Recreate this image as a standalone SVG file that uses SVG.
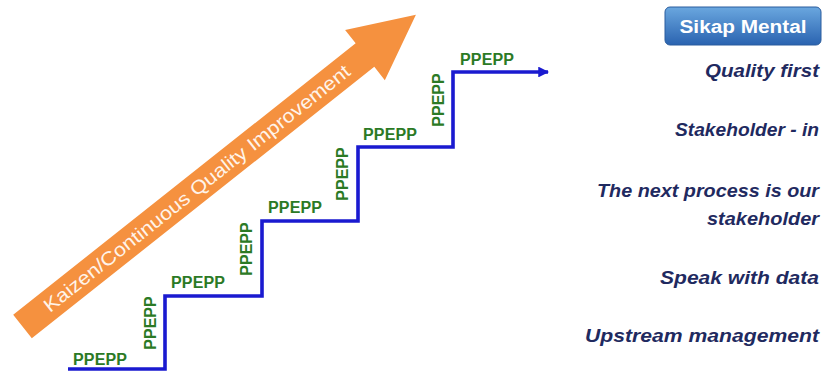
<svg xmlns="http://www.w3.org/2000/svg" width="824" height="371" viewBox="0 0 824 371">
<style>
.pp{font-family:"Liberation Sans",Arial,sans-serif;font-weight:bold;font-size:16px;fill:#2b7a25}
.rt{font-family:"Liberation Sans",Arial,sans-serif;font-weight:bold;font-style:italic;font-size:18px;fill:#1f2a60;text-anchor:end}
.stair{fill:none;stroke:#1a1ad0;stroke-width:3.6}
</style>
<defs>
<linearGradient id="btn" x1="0" y1="0" x2="0" y2="1">
<stop offset="0" stop-color="#6aa7df"/>
<stop offset="1" stop-color="#2a63b0"/>
</linearGradient>
<marker id="ah" viewBox="0 0 10 10" refX="9" refY="5" markerWidth="3" markerHeight="3" orient="auto" markerUnits="strokeWidth">
<path d="M0,0 L10,5 L0,10 z" fill="#1a1ad0"/>
</marker>
</defs>
<rect width="824" height="371" fill="#ffffff"/>

<g id="kaizen-arrow" transform="translate(22.5,326.5) rotate(-38.4)">
<polygon points="0,-15 437,-15 437,-32 502,0 437,32 437,15 0,15" fill="#f5913f"/>
<text x="30" y="6.5" font-family="Liberation Sans, Arial, sans-serif" font-size="19" fill="#fff4ea" textLength="385" lengthAdjust="spacingAndGlyphs">Kaizen/Continuous Quality Improvement</text>
</g>

<g id="connectors">
<path class="stair" d="M68,369 H165 V296 H262 V221 H358 V147 H453 V72 H548" marker-end="url(#ah)"/>
</g>

<g id="steps">
<text class="pp" x="73" y="365" textLength="54">PPEPP</text>
<text class="pp" x="171" y="288" textLength="54">PPEPP</text>
<text class="pp" x="268" y="213" textLength="54">PPEPP</text>
<text class="pp" x="363" y="140" textLength="54">PPEPP</text>
<text class="pp" x="460" y="65" textLength="54">PPEPP</text>
<text class="pp" transform="translate(156,323) rotate(-90)" text-anchor="middle">PPEPP</text>
<text class="pp" transform="translate(252,249) rotate(-90)" text-anchor="middle">PPEPP</text>
<text class="pp" transform="translate(348,174) rotate(-90)" text-anchor="middle">PPEPP</text>
<text class="pp" transform="translate(444,100) rotate(-90)" text-anchor="middle">PPEPP</text>
</g>

<g id="sikap-mental">
<rect x="665" y="7" width="156" height="38" rx="5" fill="url(#btn)" stroke="#2b5d9e" stroke-width="1"/>
<text x="743" y="33" font-family="Liberation Sans, Arial, sans-serif" font-weight="bold" font-size="18" fill="#ffffff" text-anchor="middle" textLength="127" lengthAdjust="spacingAndGlyphs">Sikap Mental</text>
</g>

<g id="values">
<text class="rt" x="819" y="77" textLength="114" lengthAdjust="spacingAndGlyphs">Quality first</text>
<text class="rt" x="819" y="136" textLength="144" lengthAdjust="spacingAndGlyphs">Stakeholder - in</text>
<text class="rt" x="819" y="197" textLength="222" lengthAdjust="spacingAndGlyphs">The next process is our</text>
<text class="rt" x="819" y="225" textLength="112" lengthAdjust="spacingAndGlyphs">stakeholder</text>
<text class="rt" x="819" y="284" textLength="159" lengthAdjust="spacingAndGlyphs">Speak with data</text>
<text class="rt" x="819" y="342" textLength="234" lengthAdjust="spacingAndGlyphs">Upstream management</text>
</g>
</svg>
